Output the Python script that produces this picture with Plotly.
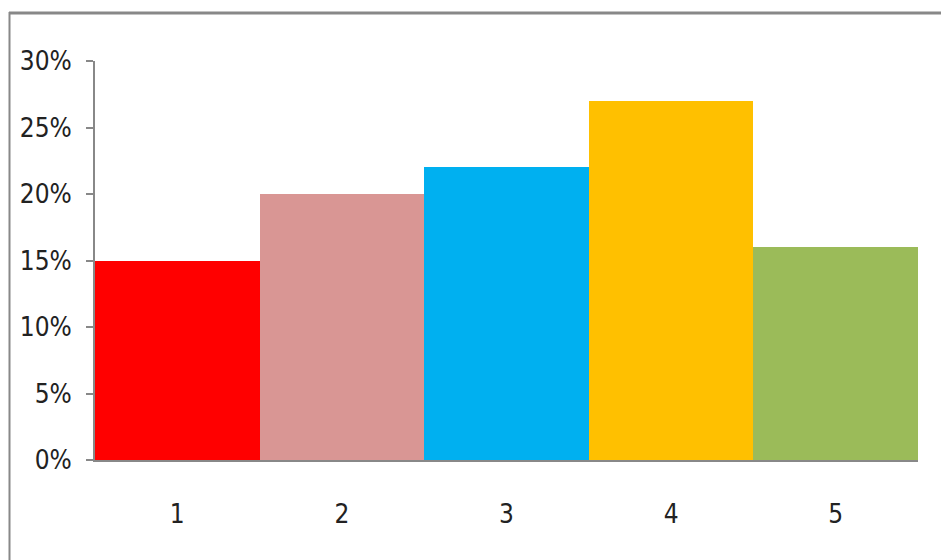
import plotly.graph_objects as go

categories = ["1", "2", "3", "4", "5"]
values = [0.15, 0.20, 0.22, 0.27, 0.16]
colors = ["#FF0000", "#D99694", "#00B0F0", "#FFC000", "#9BBB59"]
y_ticks = [0, 0.05, 0.10, 0.15, 0.20, 0.25, 0.30]
y_tick_labels = ["0%", "5%", "10%", "15%", "20%", "25%", "30%"]

W, H = 941, 560
L, R, T, B = 95, 23, 61, 100
pw, ph = W - L - R, H - T - B

def px_x(p):
    return (p - L) / pw

def px_y(p):
    return (H - B - p) / ph

fig = go.Figure(go.Bar(x=categories, y=values, marker=dict(color=colors, line=dict(width=0))))

font_family = "Liberation Sans Narrow, Arial Narrow, DejaVu Sans Condensed, Liberation Sans, sans-serif"

fig.update_layout(
    width=W, height=H,
    margin=dict(l=L, r=R, t=T, b=B, autoexpand=False),
    paper_bgcolor="white", plot_bgcolor="white",
    bargap=0,
    showlegend=False,
    font=dict(family=font_family, size=26, color="#222222"),
    xaxis=dict(
        type="category", showline=True, linecolor="#888888", linewidth=2,
        showgrid=False, ticks="", ticklabelstandoff=30,
        tickfont=dict(size=26),
    ),
    yaxis=dict(
        range=[0, 0.30], tickvals=y_ticks, ticktext=y_tick_labels,
        showline=True, linecolor="#888888", linewidth=2,
        showgrid=False, zeroline=False,
        ticks="outside", ticklen=7, tickcolor="#888888", tickwidth=2,
        ticklabelstandoff=9, tickfont=dict(size=26),
    ),
    shapes=[
        dict(type="line", xref="paper", yref="paper",
             x0=px_x(9), x1=px_x(945), y0=px_y(13), y1=px_y(13),
             line=dict(color="#888888", width=3)),
        dict(type="line", xref="paper", yref="paper",
             x0=px_x(9.5), x1=px_x(9.5), y0=px_y(12), y1=px_y(565),
             line=dict(color="#888888", width=2)),
    ],
)

fig.write_html("out.html")
